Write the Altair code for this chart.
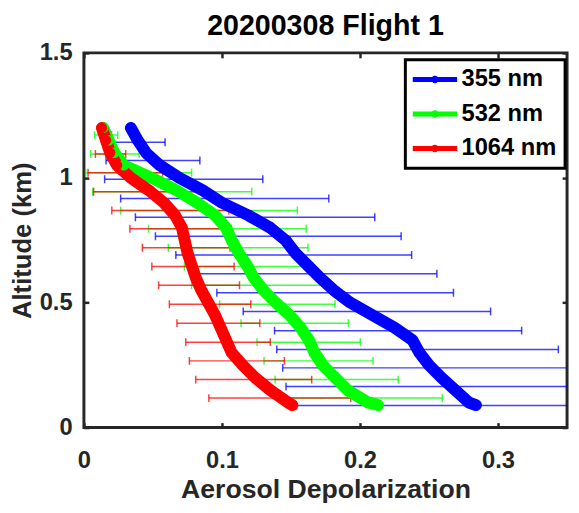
import altair as alt
import pandas as pd

# ---------------- data ----------------
series = ["355 nm", "532 nm", "1064 nm"]
colors = ["#0000FF", "#00FF00", "#FF0000"]

altitude = [1.20, 1.15, 1.10, 1.05, 1.00, 0.95, 0.90, 0.85, 0.80, 0.75, 0.70, 0.65,
            0.60, 0.55, 0.50, 0.45, 0.40, 0.35, 0.30, 0.25, 0.20, 0.15, 0.10, 0.09]
dep_355 = [0.034, 0.039, 0.045, 0.055, 0.069, 0.086, 0.100, 0.119, 0.135, 0.146, 0.153, 0.162,
           0.171, 0.181, 0.193, 0.209, 0.225, 0.238, 0.243, 0.250, 0.259, 0.269, 0.279, 0.284]
dep_532 = [0.014, 0.018, 0.022, 0.029, 0.049, 0.067, 0.082, 0.095, 0.103, 0.107, 0.112, 0.118,
           0.123, 0.130, 0.139, 0.149, 0.157, 0.163, 0.167, 0.173, 0.182, 0.191, 0.206, 0.213]
dep_1064 = [0.013, 0.016, 0.019, 0.024, 0.034, 0.047, 0.058, 0.066, 0.071, 0.073, 0.075, 0.078,
            0.081, 0.085, 0.090, 0.095, 0.099, 0.103, 0.107, 0.115, 0.124, 0.135, 0.148, 0.151]

# error bars (altitude, centre, half width)
eb_alt_355 = [1.142, 1.069, 0.994, 0.917, 0.842, 0.766, 0.691, 0.616, 0.540, 0.465,
              0.388, 0.313, 0.239, 0.164, 0.088]
eb_x_355 = [0.0393, 0.050, 0.0723, 0.102, 0.124, 0.1408, 0.152, 0.169, 0.182, 0.205,
            0.2276, 0.2417, 0.248, 0.262, 0.284]
eb_err_355 = [0.0195, 0.034, 0.0573, 0.0754, 0.0867, 0.089, 0.0854, 0.0867, 0.0857, 0.0896,
              0.0895, 0.102, 0.104, 0.1156, 0.130]

eb_alt_vis = [1.171, 1.095, 1.020, 0.944, 0.869, 0.796, 0.720, 0.645, 0.570, 0.4935,
              0.418, 0.342, 0.267, 0.192, 0.118]
eb_x_532 = [0.0161, 0.0224, 0.0396, 0.064, 0.0906, 0.1039, 0.1117, 0.1194, 0.126, 0.1401,
            0.1527, 0.1628, 0.170, 0.1831, 0.2006]
eb_err_532 = [0.0084, 0.0176, 0.0384, 0.0576, 0.064, 0.0571, 0.0506, 0.0466, 0.048, 0.0418,
              0.0389, 0.0374, 0.0395, 0.0446, 0.059]
eb_x_1064 = [0.016, 0.0193, 0.030, 0.046, 0.0626, 0.070, 0.0741, 0.079, 0.0834, 0.0914,
             0.0974, 0.1044, 0.1108, 0.123, 0.1419]
eb_err_1064 = [0.004, 0.011, 0.027, 0.039, 0.0424, 0.0367, 0.0318, 0.0298, 0.0293, 0.0295,
               0.030, 0.0306, 0.0344, 0.042, 0.0514]

x_ticks = [0, 0.1, 0.2, 0.3]
y_ticks = [0, 0.5, 1, 1.5]

# ---------------- tables ----------------
prof_rows = []
for s, vals in zip(series, [dep_355, dep_532, dep_1064]):
    for a, v in zip(altitude, vals):
        prof_rows.append({"series": s, "altitude": a, "dep": v})
prof = pd.DataFrame(prof_rows)

eb_tables = []
for s, alts, xs, es in [
    (series[0], eb_alt_355, eb_x_355, eb_err_355),
    (series[1], eb_alt_vis, eb_x_532, eb_err_532),
    (series[2], eb_alt_vis, eb_x_1064, eb_err_1064),
]:
    eb_tables.append(pd.DataFrame({
        "series": s,
        "altitude": alts,
        "lo": [x - e for x, e in zip(xs, es)],
        "hi": [x + e for x, e in zip(xs, es)],
    }))

# ---------------- styling ----------------
FONT = "Liberation Sans"
INK = "#262626"
XS = alt.Scale(domain=[0, 0.35], nice=False, zero=False)
YS = alt.Scale(domain=[0, 1.5], nice=False, zero=False)
CS = alt.Scale(domain=series, range=colors)

tick_style = dict(domain=False, grid=False, tickSize=5, tickWidth=2.5, tickColor=INK, offset=-5)

x_bottom = alt.Axis(orient="bottom", values=x_ticks, format="~g", labelFlush=False,
                    labelOverlap=False, labelFont=FONT, labelFontSize=24,
                    labelFontWeight="bold", labelColor=INK, labelPadding=22,
                    title="Aerosol Depolarization", titleFont=FONT, titleFontSize=27,
                    titleFontWeight="bold", titleColor=INK, titleX=245, titleY=76,
                    titleAlign="center", titleBaseline="alphabetic", **tick_style)
y_left = alt.Axis(orient="left", values=y_ticks, format="~g", labelFlush=False,
                  labelOverlap=False, labelFont=FONT, labelFontSize=24,
                  labelFontWeight="bold", labelColor=INK, labelPadding=12,
                  title="Altitude (km)", titleFont=FONT, titleFontSize=26,
                  titleFontWeight="bold", titleColor=INK, titleX=-59, titleY=190,
                  titleAngle=-90, titleAlign="center", titleBaseline="alphabetic",
                  **tick_style)
x_top = alt.Axis(orient="top", values=x_ticks, labels=False, title=None, **tick_style)
y_right = alt.Axis(orient="right", values=y_ticks, labels=False, title=None, **tick_style)

# legend glyph: thick line with a dot, drawn off-centre so that it spans the sample width
LEG_PATH = ("M-1.04,-0.21L2.71,-0.21L2.71,0.21L-1.04,0.21Z "
            "M0.52,0A0.31,0.31,0,1,1,1.14,0A0.31,0.31,0,1,1,0.52,0Z")

legend = alt.Legend(title=None, orient="none", legendX=326, legendY=7,
                    direction="vertical", symbolType=LEG_PATH, symbolSize=576,
                    symbolStrokeWidth=0, symbolOpacity=1, labelFont=FONT,
                    labelFontSize=24, labelFontWeight="bold", labelColor="black",
                    labelOffset=25, rowPadding=11, padding=8, strokeColor="black",
                    fillColor="white")

# ---------------- layers ----------------
layers = []
for i, (tab, c) in enumerate(zip(eb_tables, colors)):
    base = alt.Chart(tab)
    layers.append(base.mark_rule(strokeWidth=1.5, opacity=0.75, clip=True, color=c).encode(
        x=alt.X("lo:Q", scale=XS, axis=x_top if i == 0 else None),
        x2="hi:Q",
        y=alt.Y("altitude:Q", scale=YS, axis=y_right if i == 0 else None),
    ))
    for end in ["lo", "hi"]:
        layers.append(base.mark_rule(strokeWidth=1.5, opacity=0.75, clip=True, color=c,
                                     yOffset=-4, y2Offset=4).encode(
            x=alt.X(f"{end}:Q", scale=XS, axis=None),
            y=alt.Y("altitude:Q", scale=YS, axis=None),
            y2="altitude:Q",
        ))

for i, (s, c) in enumerate(zip(series, colors)):
    layers.append(
        alt.Chart(prof[prof["series"] == s]).mark_line(
            strokeWidth=12, strokeCap="round", strokeJoin="round", clip=True, color=c
        ).encode(
            x=alt.X("dep:Q", scale=XS, axis=x_bottom if i == 0 else None),
            y=alt.Y("altitude:Q", scale=YS, axis=y_left if i == 0 else None),
            order=alt.Order("altitude:Q", sort="descending"),
        )
    )

layers.append(alt.Chart(prof).mark_circle(size=113, opacity=1, clip=True).encode(
    x=alt.X("dep:Q", scale=XS, axis=None),
    y=alt.Y("altitude:Q", scale=YS, axis=None),
    fill=alt.Fill("series:N", scale=CS, legend=legend),
))

chart = alt.layer(*layers).resolve_axis(
    x="independent", y="independent"
).properties(
    width=490,
    height=380,
    autosize="none",
    padding={"left": 77, "top": 42, "right": 4, "bottom": 75},
    title=alt.TitleParams("20200308 Flight 1", font=FONT, fontSize=29, fontWeight="bold",
                          color="black", anchor="middle", offset=0),
    background="white",
).configure_view(
    stroke=INK, strokeWidth=3
).configure_legend(
    strokeWidth=3
)

chart.save("out.html", embed_options={"renderer": "svg", "actions": False})
